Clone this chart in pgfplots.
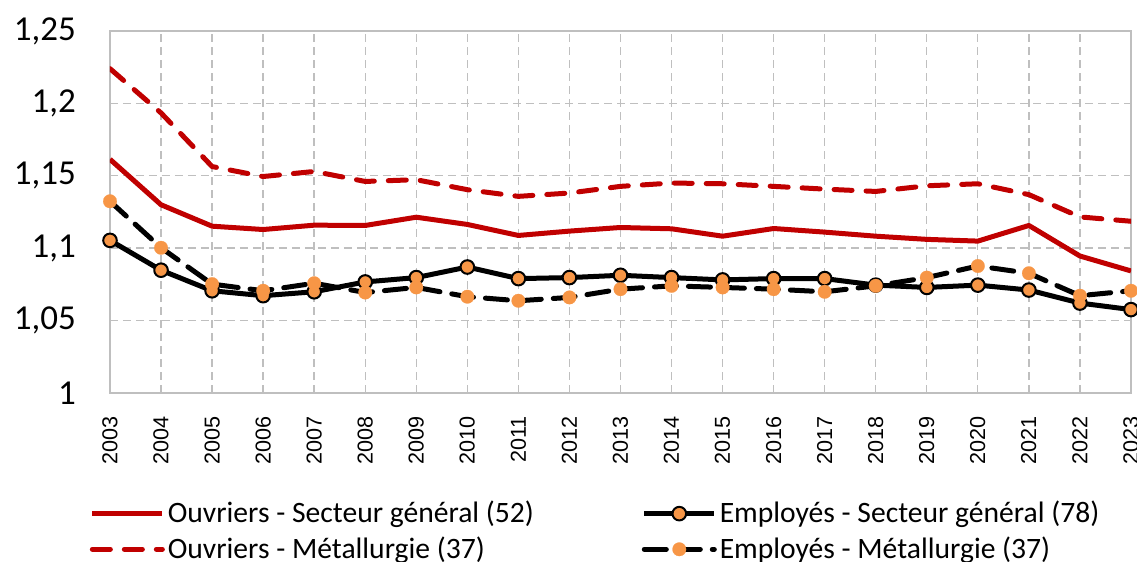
\documentclass[border=0pt]{standalone}
\usepackage{pgfplots}
\pgfplotsset{compat=1.18}
\usepackage{pgfplotstable}
\usepackage{fontspec}
\setmainfont{Carlito}
\newfontfamily\arialf{Liberation Sans}
\definecolor{rouge}{HTML}{C00000}
\definecolor{orng}{HTML}{F79646}
\definecolor{gridc}{HTML}{BFBFBF}

\pgfplotstableread{
year osg om esg em
2003 1.1614 1.2240 1.1054 1.1324
2004 1.1300 1.1934 1.0848 1.1003
2005 1.1152 1.1564 1.0706 1.0752
2006 1.1129 1.1495 1.0672 1.0706
2007 1.1159 1.1530 1.0699 1.0758
2008 1.1157 1.1461 1.0767 1.0694
2009 1.1214 1.1473 1.0797 1.0729
2010 1.1164 1.1404 1.0870 1.0665
2011 1.1088 1.1358 1.0790 1.0637
2012 1.1118 1.1381 1.0797 1.0660
2013 1.1143 1.1427 1.0813 1.0717
2014 1.1134 1.1450 1.0797 1.0740
2015 1.1083 1.1445 1.0781 1.0729
2016 1.1136 1.1427 1.0790 1.0717
2017 1.1111 1.1408 1.0790 1.0699
2018 1.1083 1.1392 1.0745 1.0740
2019 1.1061 1.1431 1.0729 1.0797
2020 1.1049 1.1445 1.0745 1.0877
2021 1.1157 1.1370 1.0711 1.0827
2022 1.0946 1.1216 1.0621 1.0672
2023 1.0843 1.1186 1.0576 1.0706
}\data

\begin{document}
\begin{tikzpicture}
\path[use as bounding box] (0,0) rectangle (568.5pt,281pt);
\begin{axis}[
  at={(55pt,84.5pt)}, anchor=south west,
  scale only axis, width=510.5pt, height=181pt,
  xmin=2003, xmax=2023, ymin=1, ymax=1.25,
  xtick={2003,2004,...,2023},
  ytick={1,1.05,1.1,1.15,1.2,1.25},
  /pgf/number format/assume math mode=true,
  yticklabel style={/pgf/number format/use comma, font=\fontsize{17.5}{20}\selectfont, xshift=-13.5pt},
  xticklabel style={/pgf/number format/1000 sep={}, rotate=90, anchor=east, font=\arialf\fontsize{10.8}{13}\selectfont},
  xticklabel shift=8pt,
  major tick length=0pt,
  grid=major,
  major grid style={gridc, dash pattern=on 4pt off 2.5pt, line width=0.7pt},
  axis line style={gridc, line width=0.8pt},
  legend columns=2,
  legend cell align=left,
  legend style={draw=none, fill=none, at={(-0.026,-0.276)}, anchor=north west,
    font=\fontsize{14.8}{16}\selectfont,
    nodes={inner xsep=1.5pt},
    /tikz/every even column/.append style={column sep=52.5pt},
    row sep=1.5pt},
  legend image code/.code={\draw[mark repeat=2,mark phase=2] plot coordinates {(0pt,0pt) (17.5pt,0pt) (35pt,0pt)};},
]
\addplot[rouge, line width=2.5pt, line join=round] table[x=year,y=osg]{\data};
\addlegendentry{Ouvriers - Secteur général (52)}
\addplot[black, line width=2.5pt, line join=round, mark=*, mark size=3.4pt, mark options={fill=orng, draw=black, line width=1pt}] table[x=year,y=esg]{\data};
\addlegendentry{Employés - Secteur général (78)}
\addplot[rouge, line width=2.5pt, line cap=round, line join=round, dash pattern=on 9pt off 7pt] table[x=year,y=om]{\data};
\addlegendentry{Ouvriers - Métallurgie (37)}
\addplot[black, line width=2.5pt, line cap=round, line join=round, dash pattern=on 11pt off 6pt, mark=*, mark size=3.4pt, mark options={fill=orng, draw=orng, line width=0.1pt, solid}] table[x=year,y=em]{\data};
\addlegendentry{Employés - Métallurgie (37)}
\end{axis}
\end{tikzpicture}
\end{document}
